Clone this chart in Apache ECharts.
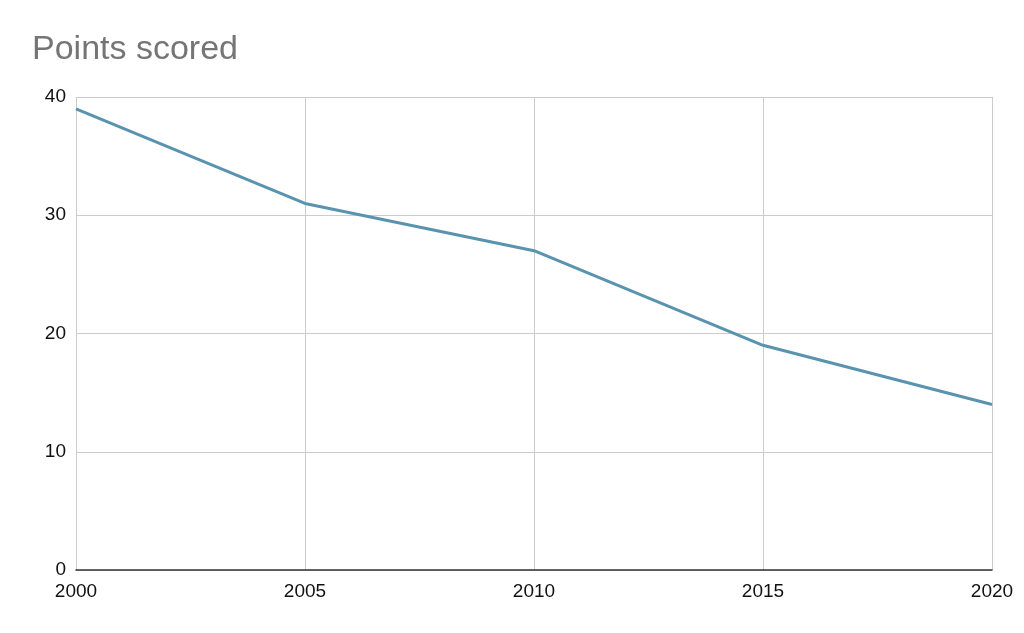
<!DOCTYPE html>
<html><head><meta charset="utf-8">
<script src="https://cdn.jsdelivr.net/npm/echarts@6/dist/echarts.min.js"></script>
<style>html,body{margin:0;padding:0;background:#fff}#c{width:1024px;height:633px}</style>
</head><body><div id="c"></div>
<script>
const categories = ['2000','2005','2010','2015','2020'];
const pointsScored = [39, 31, 27, 19, 14];
const yTicks = [0, 10, 20, 30, 40];
const chart = echarts.init(document.getElementById('c'));
chart.setOption({
  animation: false,
  title: { text: 'Points scored', left: 27, top: 28, textStyle: { fontFamily: 'Liberation Sans', fontSize: 34, fontWeight: 'normal', color: '#757575' } },
  grid: { left: 76, right: 32, top: 97, bottom: 63, containLabel: false },
  xAxis: {
    type: 'category', data: categories, boundaryGap: false,
    axisLine: { lineStyle: { color: '#333', width: 1.5 } },
    axisTick: { show: false },
    axisLabel: { fontFamily: 'Liberation Sans', fontSize: 19, color: '#111', margin: 12, showMinLabel: true, showMaxLabel: true },
    splitLine: { show: true, lineStyle: { color: '#ccc', width: 1 } }
  },
  yAxis: {
    type: 'value', min: yTicks[0], max: yTicks[yTicks.length-1], interval: 10,
    axisLine: { show: false }, axisTick: { show: false },
    axisLabel: { fontFamily: 'Liberation Sans', fontSize: 19, color: '#111', margin: 10, padding: [4, 0, 0, 0] },
    splitLine: { lineStyle: { color: '#ccc', width: 1 } }
  },
  series: [{
    type: 'line', data: pointsScored, symbol: 'none',
    lineStyle: { color: '#5a93af', width: 3 }
  }]
});
</script></body></html>
